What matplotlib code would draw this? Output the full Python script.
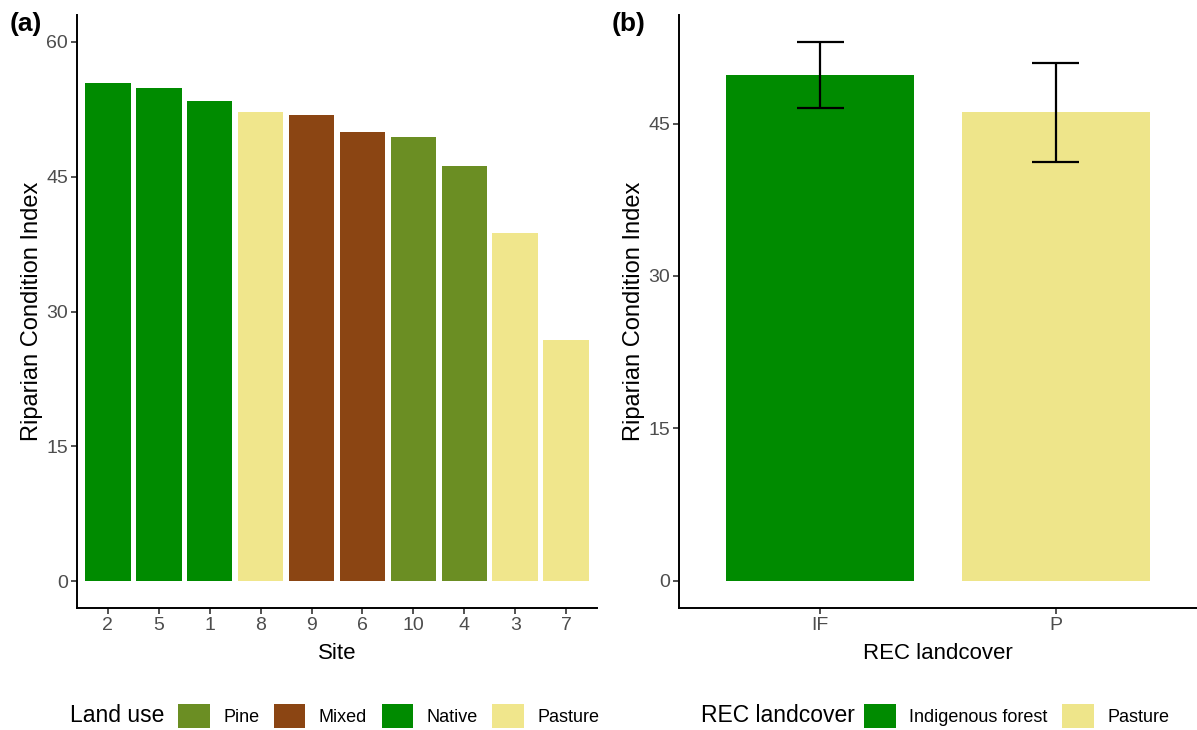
import matplotlib
matplotlib.use("Agg")
import matplotlib.pyplot as plt
from matplotlib.patches import Patch

plt.rcParams['font.family'] = ['Liberation Sans', 'DejaVu Sans']

# ---- data panel (a)
sites = ["2", "5", "1", "8", "9", "6", "10", "4", "3", "7"]
rci_values = [55.4, 54.9, 53.4, 52.2, 51.9, 50.0, 49.4, 46.2, 38.7, 26.8]
site_landuse = ["Native", "Native", "Native", "Pasture", "Mixed", "Mixed",
                "Pine", "Pine", "Pasture", "Pasture"]
landuse_levels = ["Pine", "Mixed", "Native", "Pasture"]
landuse_colors = {"Pine": "#6B8E23", "Mixed": "#8B4513",
                  "Native": "#008B00", "Pasture": "#F0E68C"}

# ---- data panel (b)
rec_classes = ["IF", "P"]
rec_labels = ["Indigenous forest", "Pasture"]
rec_means = [49.8, 46.1]
rec_se = [3.25, 4.85]
rec_colors = {"IF": "#008B00", "P": "#EEE58A"}

W, H = 1197, 730
fig = plt.figure(figsize=(W / 100, H / 100), dpi=100)

def add_axes_px(l, r, t, b):
    return fig.add_axes([l / W, 1 - b / H, (r - l) / W, (b - t) / H])

ax1 = add_axes_px(77, 597, 15, 608)
ax2 = add_axes_px(679, 1197, 15, 608)

tick_color = "#4D4D4D"

def style(ax):
    for s in ["top", "right"]:
        ax.spines[s].set_visible(False)
    for s in ["left", "bottom"]:
        ax.spines[s].set_linewidth(1.4)
        ax.spines[s].set_color("black")
    ax.tick_params(axis="both", colors="#333333", labelcolor=tick_color,
                   labelsize=14, length=4, width=1.2, pad=2.5)
    ax.set_facecolor("white")

# Panel (a)
x1 = list(range(1, len(sites) + 1))
ax1.bar(x1, rci_values, width=0.9,
        color=[landuse_colors[l] for l in site_landuse],
        edgecolor="none")
ax1.set_xlim(0.4, len(sites) + 0.6)
ax1.set_ylim(-3, 63)
ax1.set_yticks([0, 15, 30, 45, 60])
ax1.set_xticks(x1)
ax1.set_xticklabels(sites)
ax1.set_xlabel("Site", fontsize=16, labelpad=6.5)
ax1.set_ylabel("Riparian Condition Index", fontsize=17, labelpad=2)
style(ax1)

# Panel (b)
x2 = list(range(1, len(rec_classes) + 1))
ax2.bar(x2, rec_means, width=0.8,
        color=[rec_colors[c] for c in rec_classes], edgecolor="none")
for xi, m, se in zip(x2, rec_means, rec_se):
    ax2.vlines(xi, m - se, m + se, color="black", linewidth=1.6)
    ax2.hlines([m - se, m + se], xi - 0.1, xi + 0.1, color="black", linewidth=1.6)
ax2.set_xlim(0.4, len(rec_classes) + 0.6)
ax2.set_ylim(-2.7, 55.7)
ax2.set_yticks([0, 15, 30, 45])
ax2.set_xticks(x2)
ax2.set_xticklabels(rec_classes)
ax2.set_xlabel("REC landcover", fontsize=16, labelpad=6.5)
ax2.set_ylabel("Riparian Condition Index", fontsize=17, labelpad=2)
style(ax2)

# panel tags
fig.text(10 / W, 1 - 12 / H, "(a)", fontsize=19, fontweight="bold", va="top", ha="left")
fig.text(612 / W, 1 - 12 / H, "(b)", fontsize=19, fontweight="bold", va="top", ha="left")

# legends
leg_y = 1 - 716 / H
fig.text(70 / W, leg_y, "Land use", fontsize=16.5, va="center", ha="left")
h1 = [Patch(facecolor=landuse_colors[l], edgecolor="none", label=l) for l in landuse_levels]
fig.legend(handles=h1, loc="center left", bbox_to_anchor=(178 / W, leg_y),
           ncol=4, frameon=False, fontsize=13, handlelength=1.75, handleheight=1.75,
           handletextpad=0.75, columnspacing=0.8, borderaxespad=0, borderpad=0)

fig.text(701 / W, leg_y, "REC landcover", fontsize=16.5, va="center", ha="left")
h2 = [Patch(facecolor=rec_colors[c], edgecolor="none", label=lab)
      for c, lab in zip(rec_classes, rec_labels)]
fig.legend(handles=h2, loc="center left", bbox_to_anchor=(864 / W, leg_y),
           ncol=2, frameon=False, fontsize=13, handlelength=1.75, handleheight=1.75,
           handletextpad=0.75, columnspacing=0.8, borderaxespad=0, borderpad=0)

fig.savefig("out.png", dpi=100, facecolor="white")
